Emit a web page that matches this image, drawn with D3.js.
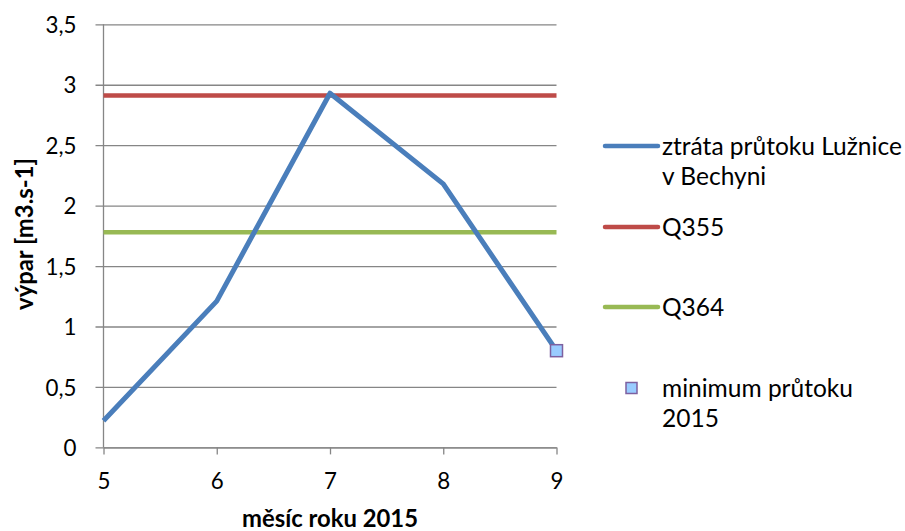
<!DOCTYPE html>
<html>
<head>
<meta charset="utf-8">
<script src="https://cdn.jsdelivr.net/npm/d3@7"></script>
<style>
  body { margin: 0; background: #fff; }
  svg { display: block; font-family: Lato, "Open Sans", sans-serif; }
</style>
</head>
<body>
<svg id="chart" width="905" height="531"></svg>
<script>
// Months of 2015 on the x axis
const months = [5, 6, 7, 8, 9];
// Flow loss of the Lužnice river at Bechyně [m3.s-1]
const lossValues = [0.22, 1.21, 2.93, 2.18, 0.80];
// Reference flows
const q355 = 2.91;
const q364 = 1.78;
// Minimum flow of 2015 (single point)
const minimumPoint = { month: 9, value: 0.80 };
const yTicks = [0, 0.5, 1, 1.5, 2, 2.5, 3, 3.5];
const legendLabels = [["ztráta průtoku Lužnice", "v Bechyni"], ["Q355"], ["Q364"], ["minimum průtoku", "2015"]];

const colors = { loss: "#4A7EBB", q355: "#BE4B48", q364: "#98B954", markerFill: "#99CCFF", markerStroke: "#7D60A0", grid: "#868686" };

const svg = d3.select("#chart");
const margin = { left: 103.5, right: 556.5, top: 24.3, bottom: 447.4 };

// pick a font size so that a sample string takes the wanted width
function fitSize(sample, width, weight) {
  const t = svg.append("text").attr("font-size", 100).attr("font-weight", weight || "normal").text(sample);
  const w = t.node().getComputedTextLength();
  t.remove();
  return 100 * width / w;
}
const tickSize = fitSize("3,5", 31);
const legendSize = fitSize("ztráta průtoku Lužnice", 240);
const titleSize = fitSize("měsíc roku 2015", 176, "bold");

const x = d3.scaleLinear().domain([5, 9]).range([margin.left, margin.right]);
const y = d3.scaleLinear().domain([0, 3.5]).range([margin.bottom, margin.top]);

const fmt = v => String(v).replace(".", ",");

// horizontal gridlines with short ticks to the left
const yAxis = d3.axisLeft(y).tickValues(yTicks).tickFormat(fmt)
  .tickSize(-(margin.right - margin.left)).tickPadding(27);
const gy = svg.append("g").attr("transform", `translate(${margin.left},0)`).call(yAxis)
  .attr("font-family", null).attr("font-size", tickSize);
gy.select(".domain").remove();
gy.selectAll(".tick line").attr("x1", -8).attr("stroke", colors.grid).attr("stroke-width", 1.3);
gy.selectAll(".tick text").attr("fill", "#000").attr("dy", "0.36em");

// vertical axis line
svg.append("line").attr("x1", margin.left).attr("x2", margin.left)
  .attr("y1", margin.top).attr("y2", margin.bottom)
  .attr("stroke", colors.grid).attr("stroke-width", 1.3);

// x axis
const xAxis = d3.axisBottom(x).tickValues(months).tickFormat(d3.format("d"))
  .tickSize(7).tickSizeOuter(0).tickPadding(27);
const gx = svg.append("g").attr("transform", `translate(0,${margin.bottom})`).call(xAxis)
  .attr("font-family", null).attr("font-size", tickSize);
gx.select(".domain").attr("stroke", colors.grid).attr("stroke-width", 1.3);
gx.selectAll(".tick line").attr("stroke", colors.grid).attr("stroke-width", 1.3);
gx.selectAll(".tick text").attr("fill", "#000").attr("dy", "0.36em");

// reference lines
const refLine = d3.line().x(d => x(d[0])).y(d => y(d[1]));
svg.append("path").datum([[5, q364], [9, q364]]).attr("d", refLine)
  .attr("fill", "none").attr("stroke", colors.q364).attr("stroke-width", 4.5);
svg.append("path").datum([[5, q355], [9, q355]]).attr("d", refLine)
  .attr("fill", "none").attr("stroke", colors.q355).attr("stroke-width", 4.5);

// loss series
const lossLine = d3.line().x((d, i) => x(months[i])).y(d => y(d));
svg.append("path").datum(lossValues).attr("d", lossLine)
  .attr("fill", "none").attr("stroke", colors.loss).attr("stroke-width", 5)
  .attr("stroke-linejoin", "round");

// minimum marker
const ms = 12;
svg.append("rect")
  .attr("x", x(minimumPoint.month) - ms / 2).attr("y", y(minimumPoint.value) - ms / 2)
  .attr("width", ms).attr("height", ms)
  .attr("fill", colors.markerFill).attr("stroke", colors.markerStroke).attr("stroke-width", 1.5);

// axis titles
svg.append("text").attr("x", 330).attr("y", 527).attr("text-anchor", "middle")
  .attr("font-size", titleSize).attr("font-weight", "bold").text("měsíc roku 2015");
svg.append("text").attr("transform", "translate(33,234) rotate(-90)").attr("text-anchor", "middle")
  .attr("font-size", titleSize).attr("font-weight", "bold").text("výpar [m3.s-1]");

// legend
const legendY = [146, 227, 307, 388];
const legendKeys = ["loss", "q355", "q364", "min"];
const lg = svg.append("g");
legendKeys.forEach((k, i) => {
  const cy = legendY[i];
  if (k === "min") {
    lg.append("rect").attr("x", 626).attr("y", cy - 5.5).attr("width", 11).attr("height", 11)
      .attr("fill", colors.markerFill).attr("stroke", colors.markerStroke).attr("stroke-width", 1.5);
  } else {
    lg.append("line").attr("x1", 605).attr("x2", 658).attr("y1", cy).attr("y2", cy)
      .attr("stroke", colors[k]).attr("stroke-width", 4.5).attr("stroke-linecap", "round");
  }
  legendLabels[i].forEach((t, j) => {
    lg.append("text").attr("x", 662).attr("y", cy + 8.5 + j * 30)
      .attr("font-size", legendSize).text(t);
  });
});
</script>
</body>
</html>
